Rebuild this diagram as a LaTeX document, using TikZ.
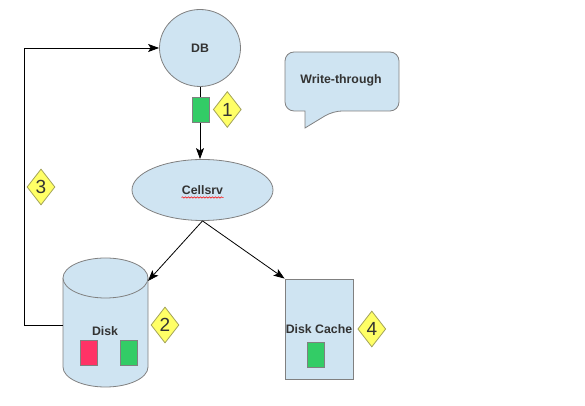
\documentclass[tikz,border=0pt]{standalone}
\usepackage{fontspec}
\setmainfont{Liberation Sans}
\usepackage{tikz}
\usetikzlibrary{arrows.meta,shapes}
\usetikzlibrary{positioning}
\usetikzlibrary{decorations.pathmorphing}
\definecolor{boxblue}{HTML}{CFE4F2}
\definecolor{boxline}{HTML}{808080}
\definecolor{blkgreen}{HTML}{33CC66}
\definecolor{blkred}{HTML}{FF3366}
\definecolor{tagyellow}{HTML}{FFFF66}
\definecolor{tagline}{HTML}{A3A35A}
\definecolor{txtgray}{HTML}{333333}
\tikzset{
  lbl/.style = {inner sep=0pt, text=txtgray,
    font=\fontsize{12.3}{14}\selectfont\bfseries},
  shp_n/.style = {lbl, align=center, text centered, draw=boxline,
    fill=boxblue},% forme bleue
  ell_n/.style = {shp_n, ellipse},
  box_n/.style = {shp_n, rectangle},
  blk_g/.style = {rectangle, draw=boxline, fill=blkgreen,
    minimum width=17pt, minimum height=25pt, inner sep=0pt},% bloc vert
  blk_r/.style = {blk_g, fill=blkred},% bloc rouge
  tag_d/.style = {diamond, draw=tagline, fill=tagyellow, inner sep=0pt,
    minimum width=28pt, minimum height=36pt, text=txtgray,
    font=\fontsize{19}{20}\selectfont}% etiquette numero
}

\begin{document}
\begin{tikzpicture}[x=1pt,y=1pt,->,>={Stealth[length=11pt,width=8pt,inset=2.5pt]},line width=0.8pt]
\useasboundingbox (0,0) rectangle (585,406);

\node [ell_n, minimum width=81pt, minimum height=77pt] (db) at (200,358) {DB};
\node [ell_n, minimum width=141pt, minimum height=61pt] (cellsrv) at (202.5,216) {Cellsrv};
\node [box_n, minimum width=68pt, minimum height=100pt] (cache) at (319,77) {Disk Cache};

% disque
\filldraw[-, draw=boxline, fill=boxblue] (63,128) -- (63,39)
  arc[start angle=180, end angle=360, x radius=42.5, y radius=20] -- (148,128);
\filldraw[-, draw=boxline, fill=boxblue] (105.5,128) ellipse [x radius=42.5, y radius=20];
\node [lbl] (disk) at (105,75) {Disk};
\coordinate (disktop) at (148,125);
\coordinate (diskleft) at (63,81);

% bulle
\filldraw[-, draw=boxline, fill=boxblue] (305,278) -- (305,295)
  [rounded corners=9pt] -- (285,295) -- (285,354) -- (399,354) -- (399,295)
  -- (333,295) [sharp corners] -- cycle;
\node [lbl] (wt) at (341,326) {Write-through};

\draw (db.south) -- (db.south |- cellsrv.north);
\draw (cellsrv.south) -- (disktop);
\draw (cellsrv.south) -- (cache.north west);
\draw (diskleft) -- ++(-39,0) |- (db.west);

\node [blk_g] (w1) at (200.5,296.5) {};
\node [tag_d, right=3.5pt of w1] (t1) {1};
\node [blk_r] (b1) at (89,53.5) {};
\node [blk_g] (b2) at (129,53.5) {};
\node [tag_d] (t2) at (165,81) {2};
\node [tag_d] (t3) at (41,219) {3};
\node [blk_g] (c1) at (315.5,51.5) {};
\node [tag_d, right=4pt of cache] (t4) {4};

\draw[-, red, line width=0.5pt, decorate, decoration={snake, amplitude=0.7pt, segment length=3pt}]
  ([xshift=-21pt,yshift=-7.5pt]cellsrv.center) -- ([xshift=21pt,yshift=-7.5pt]cellsrv.center);
\end{tikzpicture}
\end{document}
